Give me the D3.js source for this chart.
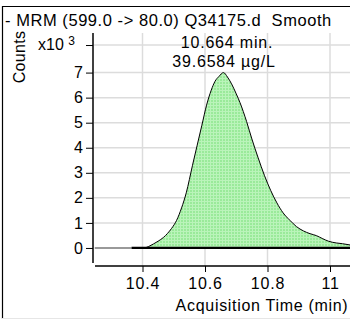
<!DOCTYPE html>
<html><head><meta charset="utf-8">
<script src="https://cdn.jsdelivr.net/npm/d3@7"></script>
<style>body{margin:0;background:#fff}svg{display:block;font-family:"Liberation Sans",Arial,sans-serif}text{white-space:pre}</style>
</head><body><svg id="c" width="350" height="320"></svg>
<script>
const title = "- MRM (599.0 -> 80.0) Q34175.d  Smooth";
const peakTime = [10.408,10.42,10.435,10.45,10.467,10.48,10.493,10.509,10.525,10.54,10.56,10.575,10.59,10.605,10.62,10.632,10.645,10.659,10.672,10.685,10.70,10.712,10.733,10.75,10.77,10.79,10.81,10.83,10.85,10.872,10.893,10.915,10.936,10.957,10.975,10.995,11.02,11.04,11.064];
const peakCounts = [0,0.06,0.16,0.27,0.42,0.58,0.78,1.10,1.6,2.2,3.3,4.1,4.9,5.7,6.3,6.65,6.85,7.0,6.82,6.55,6.15,5.8,5.05,4.35,3.6,2.9,2.3,1.8,1.4,1.1,0.85,0.68,0.57,0.49,0.38,0.27,0.2,0.17,0.12];
const baselineTime = [10.365, 11.064];
const preTime = [10.248, 10.365];
const xTicks = [10.4,10.6,10.8,11];
const xTickLabels = ["10.4","10.6","10.8","11"];
const yTicks = [0,1,2,3,4,5,6,7];
const yTickLabels = ["0","1","2","3","4","5","6","7"];
const yExpTick = 8.1;
const annotation = ["10.664 min.","39.6584 µg/L"];
const xTitle = "Acquisition Time (min)";
const yTitle = "Counts";

const FS = 16, LS = 0.8;
const svg = d3.select("#c");
const x = d3.scaleLinear().domain([10.248, 11.064]).range([95, 350]);
const y = d3.scaleLinear().domain([-0.6, 8.58]).range([263, 33]);

// border
svg.append("line").attr("x1",2).attr("x2",350).attr("y1",6.5).attr("y2",6.5).attr("stroke","#000").attr("stroke-width",1.2);
svg.append("line").attr("x1",2.5).attr("x2",2.5).attr("y1",6).attr("y2",319).attr("stroke","#000").attr("stroke-width",1.2);
svg.append("line").attr("x1",2).attr("x2",350).attr("y1",318.5).attr("y2",318.5).attr("stroke","#e6e6e6").attr("stroke-width",1);

svg.append("text").attr("x",5).attr("y",26).attr("font-size",16.5).attr("letter-spacing",0.55).text(title);

// grid
const g = svg.append("g");
g.selectAll(".hg").data(yTicks.concat([yExpTick])).enter().append("line")
 .attr("x1",94).attr("x2",350).attr("y1",d=>y(d)).attr("y2",d=>y(d))
 .attr("stroke","#dcdcdc").attr("stroke-width",1.5);
g.selectAll(".vg").data(xTicks).enter().append("line")
 .attr("x1",d=>x(d)).attr("x2",d=>x(d)).attr("y1",33).attr("y2",266)
 .attr("stroke","#dcdcdc").attr("stroke-width",1.5);

// pattern
const defs = svg.append("defs");
const pat = defs.append("pattern").attr("id","mesh").attr("width",3).attr("height",3).attr("patternUnits","userSpaceOnUse");
pat.append("rect").attr("width",3).attr("height",3).attr("fill","#9aea9a");
pat.append("rect").attr("width",3).attr("height",1).attr("fill","#baf4ba");
pat.append("rect").attr("width",1).attr("height",3).attr("fill","#baf4ba");

const pts = peakTime.map((t,i)=>[t,peakCounts[i]]);
const area = d3.area().x(d=>x(d[0])).y0(y(0)).y1(d=>y(d[1])).curve(d3.curveMonotoneX);
svg.append("path").datum(pts).attr("d",area).attr("fill","url(#mesh)");
const line = d3.line().x(d=>x(d[0])).y(d=>y(d[1])).curve(d3.curveMonotoneX);
svg.append("path").datum(pts).attr("d",line).attr("fill","none").attr("stroke","#000").attr("stroke-width",1);

// pre-peak signal and baseline
svg.append("line").attr("x1",x(preTime[0])).attr("x2",x(preTime[1])).attr("y1",y(0)).attr("y2",y(0)).attr("stroke","#999").attr("stroke-width",2);
svg.append("line").attr("x1",x(baselineTime[0])).attr("x2",x(baselineTime[1])).attr("y1",y(0)).attr("y2",y(0)).attr("stroke","#000").attr("stroke-width",2.2);

// axes
const yAxis = d3.axisLeft(y).tickValues(yTicks.concat([yExpTick])).tickSize(7).tickPadding(3)
  .tickFormat((d,i)=> i<yTickLabels.length ? yTickLabels[i] : "");
const ya = svg.append("g").attr("transform","translate(93,0)").call(yAxis);
ya.select(".domain").attr("d","M0,33V263").attr("stroke","#000").attr("stroke-width",1.5);
ya.selectAll("text").attr("font-size",FS).attr("font-family","Liberation Sans, Arial, sans-serif").attr("fill","#000");
ya.selectAll("line").attr("stroke","#000");

const xAxis = d3.axisBottom(x).tickValues(xTicks).tickSize(6).tickPadding(6).tickFormat((d,i)=>xTickLabels[i]);
const xa = svg.append("g").attr("transform","translate(0,266)").call(xAxis);
xa.select(".domain").attr("d","M95,0H350").attr("stroke","#000").attr("stroke-width",1.5);
xa.selectAll("text").attr("font-size",FS).attr("letter-spacing",LS).attr("font-family","Liberation Sans, Arial, sans-serif").attr("fill","#000");
xa.selectAll("line").attr("stroke","#000");

// exponent label
const ex = svg.append("text").attr("x",38).attr("y",y(yExpTick)+5).attr("font-size",FS);
ex.append("tspan").text("x10 ");
ex.append("tspan").attr("font-size",12).attr("dy",-5).text("3");

svg.append("text").attr("transform","translate(25,57) rotate(-90)").attr("text-anchor","middle").attr("font-size",FS).attr("letter-spacing",0.3).text(yTitle);
svg.append("text").attr("x",262).attr("y",311).attr("text-anchor","middle").attr("font-size",FS).attr("letter-spacing",0.7).text(xTitle);

svg.append("text").attr("x",227).attr("y",48).attr("text-anchor","middle").attr("font-size",FS).attr("letter-spacing",LS).text(annotation[0]);
svg.append("text").attr("x",224).attr("y",67).attr("text-anchor","middle").attr("font-size",FS).attr("letter-spacing",LS).text(annotation[1]);
</script></body></html>
